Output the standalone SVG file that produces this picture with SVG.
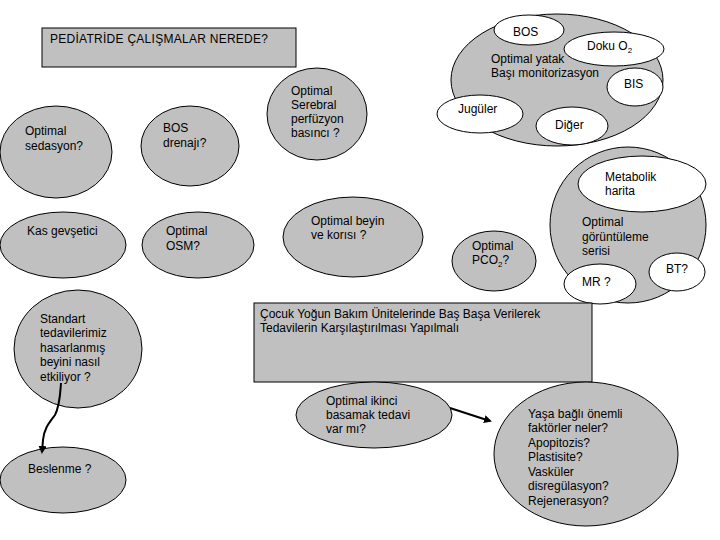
<svg xmlns="http://www.w3.org/2000/svg" width="720" height="540" viewBox="0 0 720 540">
<style>
.g{fill:#c0c0c0;stroke:#000;stroke-width:1}
.w{fill:#fff;stroke:#000;stroke-width:1}
text{font-family:"Liberation Sans",Arial,sans-serif;font-size:12px;fill:#000}
.c{fill:none;stroke:#000;stroke-width:2}
</style>
<defs>
<marker id="ah" markerWidth="8" markerHeight="8" refX="6" refY="4" orient="auto" markerUnits="userSpaceOnUse">
<path d="M0,0 L8,4 L0,8 Z" fill="#000"/>
</marker>
</defs>
<rect width="720" height="540" fill="#fff"/>

<g id="title"><rect class="g" x="42" y="28" width="254" height="39"/><text x="50" y="43" textLength="218">PEDİATRİDE  ÇALIŞMALAR NEREDE?</text></g>

<g id="sedasyon"><ellipse class="g" cx="56" cy="152" rx="56" ry="46"/><text x="25" y="135">Optimal</text><text x="25" y="150">sedasyon?</text></g>
<g id="bosdrenaj"><ellipse class="g" cx="190" cy="146" rx="49" ry="40"/><text x="163" y="132">BOS</text><text x="163" y="147">drenajı?</text></g>
<g id="serebral"><ellipse class="g" cx="317" cy="114" rx="50" ry="46"/><text x="291" y="95">Optimal</text><text x="291" y="109">Serebral</text><text x="291" y="123">perfüzyon</text><text x="291" y="137">basıncı ?</text></g>

<g id="monitor">
<ellipse class="g" cx="557" cy="80" rx="106" ry="66"/>
<text x="491" y="63">Optimal yatak</text><text x="491" y="77">Başı  monitorizasyon</text>
<g id="bos"><ellipse class="w" cx="529" cy="30" rx="35" ry="15"/><text x="513" y="36">BOS</text></g>
<g id="doku"><ellipse class="w" cx="614" cy="49" rx="50" ry="17"/><text x="587" y="50">Doku O<tspan font-size="8" dy="3">2</tspan></text></g>
<g id="bis"><ellipse class="w" cx="635" cy="87" rx="28" ry="19"/><text x="624" y="88">BIS</text></g>
<g id="juguler"><ellipse class="w" cx="480" cy="114" rx="43" ry="19"/><text x="458" y="113">Jugüler</text></g>
<g id="diger"><ellipse class="w" cx="572" cy="126" rx="36" ry="19"/><text x="555" y="129">Diğer</text></g>
</g>

<g id="kas"><ellipse class="g" cx="63" cy="245" rx="63" ry="33"/><text x="27" y="235">Kas gevşetici</text></g>
<g id="osm"><ellipse class="g" cx="198" cy="245" rx="56" ry="33"/><text x="166" y="235">Optimal</text><text x="166" y="250">OSM?</text></g>
<g id="beyin"><ellipse class="g" cx="353" cy="237" rx="70" ry="40"/><text x="311" y="225">Optimal beyin</text><text x="311" y="239">ve korısı ?</text></g>
<g id="pco2"><ellipse class="g" cx="494" cy="261" rx="42" ry="30"/><text x="472" y="250">Optimal</text><text x="472" y="264">PCO<tspan font-size="8" dy="3">2</tspan><tspan dy="-3">?</tspan></text></g>

<g id="goruntu">
<ellipse class="g" cx="628" cy="225" rx="78" ry="78"/>
<text x="582" y="226">Optimal</text><text x="582" y="241">görüntüleme</text><text x="582" y="255">serisi</text>
<g id="metabolik"><ellipse class="w" cx="642" cy="184" rx="64" ry="28"/><text x="605" y="181">Metabolik</text><text x="605" y="195">harita</text></g>
<g id="mr"><ellipse class="w" cx="600" cy="284" rx="36" ry="20"/><text x="582" y="286">MR ?</text></g>
<g id="bt"><ellipse class="w" cx="677" cy="272" rx="28" ry="19"/><text x="666" y="273">BT?</text></g>
</g>

<g id="standart"><ellipse class="g" cx="78" cy="349" rx="64" ry="59"/><text x="40" y="323">Standart</text><text x="40" y="337">tedavilerimiz</text><text x="40" y="352">hasarlanmış</text><text x="40" y="366">beyini nasıl</text><text x="40" y="381">etkiliyor ?</text></g>
<g id="cocuk"><rect class="g" x="254" y="303" width="338" height="79"/><text x="260" y="318">Çocuk Yoğun Bakım Ünitelerinde Baş Başa Verilerek</text><text x="260" y="332">Tedavilerin Karşılaştırılması Yapılmalı</text></g>
<g id="ikinci"><ellipse class="g" cx="374" cy="415" rx="78" ry="33"/><text x="326" y="405">Optimal ikinci</text><text x="326" y="419">basamak tedavi</text><text x="326" y="433">var mı?</text></g>
<g id="beslenme"><ellipse class="g" cx="63" cy="480" rx="63" ry="33"/><text x="28" y="473">Beslenme ?</text></g>
<g id="yasa"><ellipse class="g" cx="586" cy="454" rx="92" ry="72"/><text x="528" y="418">Yaşa bağlı önemli</text><text x="528" y="432">faktörler neler?</text><text x="528" y="447">Apopitozis?</text><text x="528" y="461">Plastisite?</text><text x="528" y="476">Vasküler</text><text x="528" y="490">disregülasyon?</text><text x="528" y="505">Rejenerasyon?</text></g>

<g id="connectors">
<path class="c" d="M61,383 C60,395 60,405 55,415 C50,422 44,428 43,440 L42,452" marker-end="url(#ah)"/>
<path class="c" d="M450,408 L490,421" marker-end="url(#ah)"/>
</g>
</svg>
